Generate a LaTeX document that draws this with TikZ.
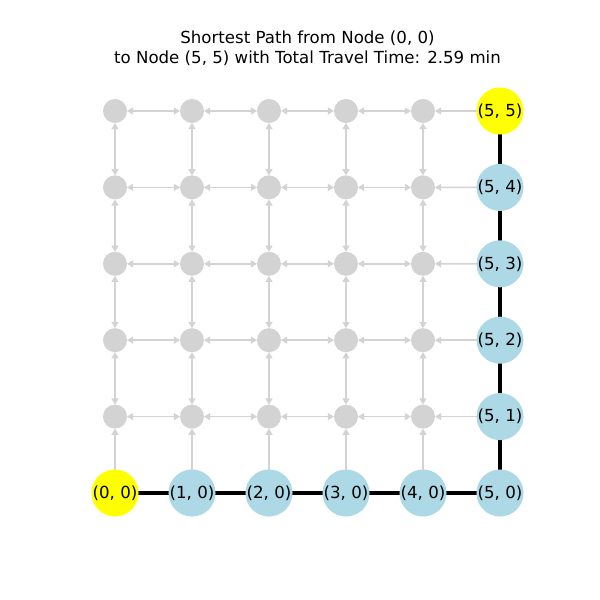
\documentclass[tikz,border=0pt]{standalone}
\usepackage{fontspec}
\setmainfont{DejaVu Sans}
\usetikzlibrary{arrows.meta,backgrounds}
\definecolor{lgray}{RGB}{211,211,211}
\definecolor{lblue}{RGB}{173,216,230}
\definecolor{yel}{RGB}{255,255,0}
\tikzset{
  grid node/.style={circle, fill=lgray, inner sep=0pt, minimum size=0.24in},
  path node/.style={circle, fill=lblue, inner sep=0pt, minimum size=0.368in,
    font=\fontsize{12}{14}\selectfont},
  end node/.style={path node, fill=yel},
  grid edge/.style={lgray, line width=1.1pt,
    {Triangle[length=4.5pt,width=5pt]}-{Triangle[length=4.5pt,width=5pt]},
    shorten >=8.64pt, shorten <=8.64pt},
  path edge/.style={black, line width=2.2pt, -{Triangle[length=7.5pt,width=6.5pt]},
    shorten >=8.64pt, shorten <=8.64pt}
}
\begin{document}
\begin{tikzpicture}[x=0.01in, y=-0.01in]
\useasboundingbox (0,0) rectangle (600,600);

\node[align=center, font=\fontsize{12}{14.4}\selectfont] (title) at (307.5,48)
  {Shortest Path from Node (0, 0)\\to Node (5, 5) with Total Travel Time: 2.59 min};

% gray nodes
\foreach \i in {0,...,4}
  \foreach \j in {1,...,5}
    \node[grid node] (n\i\j) at ({115+77*\i},{493-76.4*\j}) {};

% shortest path
\node[end node] (n00) at (115,493) {(0, 0)};
\node[path node] (n10) at (192,493) {(1, 0)};
\node[path node] (n20) at (269,493) {(2, 0)};
\node[path node] (n30) at (346,493) {(3, 0)};
\node[path node] (n40) at (423,493) {(4, 0)};
\node[path node] (n50) at (500,493) {(5, 0)};
\node[path node] (n51) at (500,416.6) {(5, 1)};
\node[path node] (n52) at (500,340.2) {(5, 2)};
\node[path node] (n53) at (500,263.8) {(5, 3)};
\node[path node] (n54) at (500,187.4) {(5, 4)};
\node[end node] (n55) at (500,111) {(5, 5)};

\begin{scope}[on background layer]
% grid edges
\foreach \i in {0,...,4}
  \foreach \j in {0,...,4}{
    \pgfmathtruncatemacro{\ii}{\i+1}
    \pgfmathtruncatemacro{\jj}{\j+1}
    \draw[grid edge] (n\i\jj.center) -- (n\ii\jj.center);
    \draw[grid edge] (n\i\j.center) -- (n\i\jj.center);
  }

% path edges
\draw[path edge] (n00.center) -- (n10.center);
\draw[path edge] (n10.center) -- (n20.center);
\draw[path edge] (n20.center) -- (n30.center);
\draw[path edge] (n30.center) -- (n40.center);
\draw[path edge] (n40.center) -- (n50.center);
\draw[path edge] (n50.center) -- (n51.center);
\draw[path edge] (n51.center) -- (n52.center);
\draw[path edge] (n52.center) -- (n53.center);
\draw[path edge] (n53.center) -- (n54.center);
\draw[path edge] (n54.center) -- (n55.center);
\end{scope}

\end{tikzpicture}
\end{document}
